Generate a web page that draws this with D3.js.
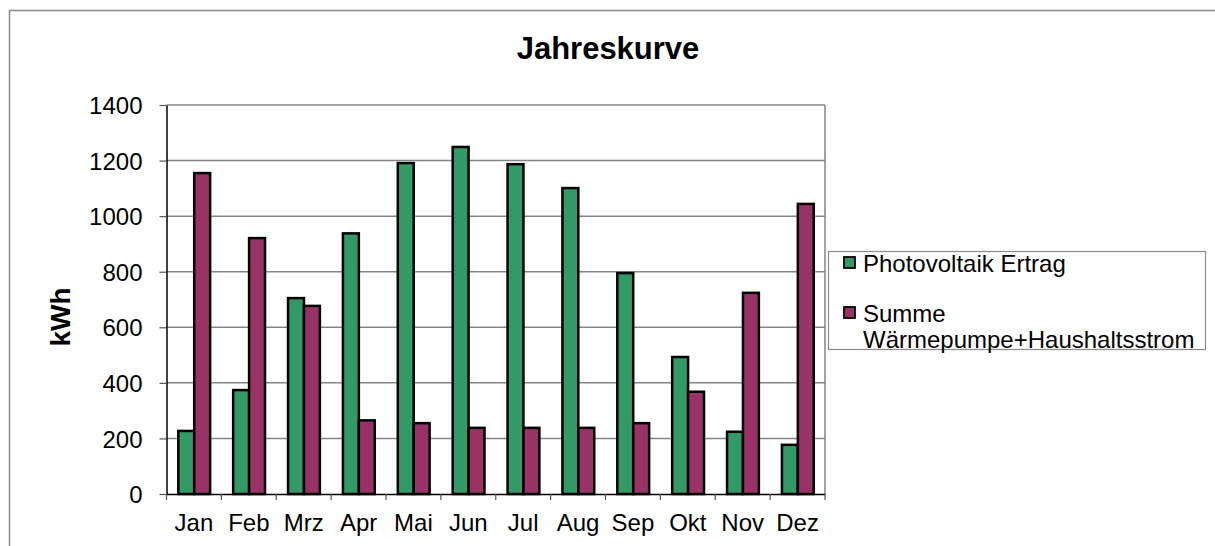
<!DOCTYPE html>
<html>
<head>
<meta charset="utf-8">
<script src="https://cdn.jsdelivr.net/npm/d3@7"></script>
<style>
  body { margin: 0; background: #fff; }
  svg { display: block; font-family: "Liberation Sans", Arial, sans-serif; }
</style>
</head>
<body>
<svg id="chart" width="1215" height="546"></svg>
<script>
const months = ['Jan', 'Feb', 'Mrz', 'Apr', 'Mai', 'Jun', 'Jul', 'Aug', 'Sep', 'Okt', 'Nov', 'Dez'];
const pvErtrag = [227, 374, 705, 938, 1191, 1249, 1187, 1101, 795, 493, 224, 177];
const verbrauch = [1155, 921, 677, 265, 255, 238, 238, 238, 255, 368, 724, 1044];
const yTicks = [0, 200, 400, 600, 800, 1000, 1200, 1400];
const seriesNames = ['Photovoltaik Ertrag', 'Summe\nWärmepumpe+Haushaltsstrom'];
const seriesColors = ['#339966', '#993366'];

const svg = d3.select('#chart');

// outer chart frame
svg.append('rect')
    .attr('x', 9.5).attr('y', 10.5)
    .attr('width', 1300).attr('height', 600)
    .attr('fill', 'none')
    .attr('stroke', '#8a8a8a')
    .attr('stroke-width', 1.5);

const plot = { left: 166.5, right: 825, top: 105, bottom: 494 };

const x = d3.scaleBand()
    .domain(months)
    .range([plot.left, plot.right]);

const x1 = d3.scaleBand()
    .domain([0, 1])
    .range([x.bandwidth() * 0.215, x.bandwidth() * 0.795]);

const y = d3.scaleLinear()
    .domain([0, 1400])
    .range([plot.bottom, plot.top]);

// gridlines
svg.append('g')
    .selectAll('line')
    .data(yTicks.filter(t => t > 0))
    .join('line')
    .attr('x1', plot.left).attr('x2', plot.right)
    .attr('y1', d => y(d)).attr('y2', d => y(d))
    .attr('stroke', '#858585')
    .attr('stroke-width', 1.5);

// right border of the plot area
svg.append('line')
    .attr('x1', plot.right).attr('x2', plot.right)
    .attr('y1', plot.top).attr('y2', plot.bottom)
    .attr('stroke', '#858585')
    .attr('stroke-width', 1.5);

// bars
const rows = months.map((m, i) => ({ month: m, values: [pvErtrag[i], verbrauch[i]] }));

const groups = svg.append('g')
    .selectAll('g.month')
    .data(rows)
    .join('g')
    .classed('month', true)
    .attr('transform', d => `translate(${x(d.month)},0)`);

groups.selectAll('rect')
    .data(d => d.values.map((v, k) => ({ k, v })))
    .join('rect')
    .attr('x', d => x1(d.k))
    .attr('width', x1.bandwidth())
    .attr('y', d => y(d.v))
    .attr('height', d => y(0) - y(d.v))
    .attr('fill', d => seriesColors[d.k])
    .attr('stroke', '#000')
    .attr('stroke-width', 2.5);

// y axis
const yAxis = svg.append('g')
    .attr('transform', `translate(${plot.left},0)`)
    .call(d3.axisLeft(y).tickValues(yTicks).tickFormat(d3.format('d'))
        .tickSize(7).tickPadding(17).tickSizeOuter(0));
yAxis.select('.domain').attr('stroke', '#000').attr('stroke-width', 1.5);
yAxis.selectAll('.tick line').attr('stroke', '#555').attr('stroke-width', 1.2);
yAxis.selectAll('text')
    .attr('font-size', 24)
    .attr('fill', '#000')
    .attr('dy', '0.36em');

// x axis
const xAxis = svg.append('g')
    .attr('transform', `translate(0,${plot.bottom})`)
    .call(d3.axisBottom(x).tickSize(0).tickPadding(20).tickSizeOuter(0));
xAxis.select('.domain').attr('stroke', '#000').attr('stroke-width', 1.5);
xAxis.selectAll('text')
    .attr('font-size', 24)
    .attr('fill', '#000');

// category boundary ticks
svg.append('g')
    .selectAll('line')
    .data(months.map(m => x(m)).concat([plot.right]))
    .join('line')
    .attr('x1', d => d).attr('x2', d => d)
    .attr('y1', plot.bottom).attr('y2', plot.bottom + 6)
    .attr('stroke', '#555')
    .attr('stroke-width', 1.2);

// title
svg.append('text')
    .attr('x', 608).attr('y', 59)
    .attr('text-anchor', 'middle')
    .attr('font-size', 31)
    .attr('font-weight', 'bold')
    .text('Jahreskurve');

// y axis title
svg.append('text')
    .attr('transform', 'translate(70,317) rotate(-90)')
    .attr('text-anchor', 'middle')
    .attr('font-size', 28)
    .attr('font-weight', 'bold')
    .text('kWh');

// legend
const legend = svg.append('g');
legend.append('rect')
    .attr('x', 828.5).attr('y', 251.5)
    .attr('width', 377).attr('height', 98)
    .attr('fill', '#fff')
    .attr('stroke', '#8c8c8c')
    .attr('stroke-width', 1.2);

const items = legend.selectAll('g.item')
    .data(seriesNames)
    .join('g')
    .classed('item', true)
    .attr('transform', (d, i) => `translate(844,${i === 0 ? 257 : 307})`);

items.append('rect')
    .attr('width', 11).attr('height', 11)
    .attr('fill', (d, i) => seriesColors[i])
    .attr('stroke', '#000')
    .attr('stroke-width', 1.8);

items.append('text')
    .attr('x', 19)
    .attr('y', 15)
    .attr('font-size', 24)
    .selectAll('tspan')
    .data(d => d.split('\n'))
    .join('tspan')
    .attr('x', 19)
    .attr('dy', (d, i) => i === 0 ? 0 : 26)
    .text(d => d);
</script>
</body>
</html>
